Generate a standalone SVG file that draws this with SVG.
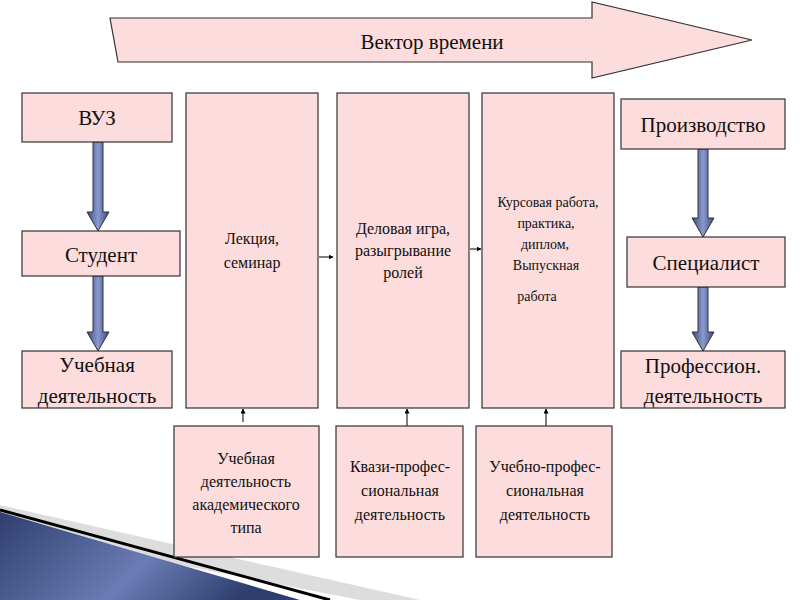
<svg xmlns="http://www.w3.org/2000/svg" width="800" height="600" viewBox="0 0 800 600">
<style>
text{font-family:"Liberation Serif","Times New Roman","DejaVu Serif",serif}
.t{fill:#111;text-anchor:middle}
.b{fill:#fcdcdc;stroke:#333;stroke-width:1.2}
.s{font-size:15px}.m{font-size:16px}.l{font-size:21px}
.c{stroke:#000;stroke-width:1;fill:none}
</style>
<defs>
<linearGradient id="bl" x1="0" y1="0" x2="1" y2="0"><stop offset="0" stop-color="#3a4a7a"/><stop offset="0.5" stop-color="#8a9ad0"/><stop offset="1" stop-color="#3a4a7a"/></linearGradient>
<linearGradient id="dec" x1="0" y1="0" x2="1" y2="0.3"><stop offset="0" stop-color="#2e3e6e"/><stop offset="0.6" stop-color="#6a7cb4"/><stop offset="1" stop-color="#2e3e6e"/></linearGradient>
<marker id="a" viewBox="0 0 10 10" refX="9" refY="5" markerWidth="5" markerHeight="5" orient="auto"><path d="M0,0L10,5L0,10z" fill="#000"/></marker>
</defs>
<polygon points="0,530 0,505 420,600 360,600" fill="#ddd"/>
<polygon points="0,512 0,600 300,600" fill="url(#dec)"/>
<line x1="0" y1="510" x2="330" y2="600" stroke="#000" stroke-width="3"/>
<g id="vector"><polygon class="b" points="110,18 592,18 592,2 752,40 592,78 592,62 118,62"/><text class="t l" x="432" y="49">Вектор времени</text></g>
<g id="connectors">
<g fill="url(#bl)" stroke="#333" stroke-width="1">
<path d="M93,142h10v70h6l-11,19l-11,-19h6z"/>
<path d="M93,276h10v56h6l-11,19l-11,-19h6z"/>
<path d="M698,149h10v69h6l-11,19l-11,-19h6z"/>
<path d="M698,287h10v45h6l-11,19l-11,-19h6z"/>
</g>
<line class="c" x1="319" y1="257" x2="333" y2="257" marker-end="url(#a)"/>
<line class="c" x1="470" y1="249" x2="481" y2="249" marker-end="url(#a)"/>
<line class="c" x1="243" y1="422" x2="243" y2="409" marker-end="url(#a)"/>
<line class="c" x1="407" y1="426" x2="407" y2="409" marker-end="url(#a)"/>
<line class="c" x1="546" y1="426" x2="546" y2="409" marker-end="url(#a)"/>
</g>
<g id="vuz"><rect class="b" x="22" y="93" width="150" height="49"/><text class="t l" x="97" y="125">ВУЗ</text></g>
<g id="student"><rect class="b" x="22" y="231" width="158" height="45"/><text class="t l" x="101" y="262">Студент</text></g>
<g id="ucheb"><rect class="b" x="22" y="351" width="150" height="57"/><text class="t l" x="97" y="372">Учебная</text><text class="t l" x="97" y="403">деятельность</text></g>
<g id="lecture"><rect class="b" x="186" y="93" width="132" height="315"/><text class="t m" x="252" y="244">Лекция,</text><text class="t m" x="252" y="268">семинар</text></g>
<g id="game"><rect class="b" x="337" y="93" width="132" height="315"/><text class="t m" x="403" y="234">Деловая игра,</text><text class="t m" x="403" y="256">разыгрывание</text><text class="t m" x="403" y="278">ролей</text></g>
<g id="course"><rect class="b" x="482" y="93" width="132" height="315"/><text class="t" font-size="14" x="548" y="207">Курсовая работа,</text><text class="t" font-size="14" x="546" y="228">практика,</text><text class="t" font-size="14" x="545" y="249">диплом,</text><text class="t" font-size="14" x="546" y="270">Выпускная</text><text class="t" font-size="14" x="537" y="301">работа</text></g>
<g id="prod"><rect class="b" x="621" y="99" width="164" height="50"/><text class="t l" x="703" y="132">Производство</text></g>
<g id="spec"><rect class="b" x="627" y="237" width="158" height="50"/><text class="t l" x="706" y="270">Специалист</text></g>
<g id="prof"><rect class="b" x="621" y="351" width="164" height="57"/><text class="t l" x="703" y="373">Профессион.</text><text class="t l" x="703" y="403">деятельность</text></g>
<g id="acad"><rect class="b" x="174" y="426" width="145" height="131"/><text class="t m" x="246" y="464">Учебная</text><text class="t m" x="246" y="487">деятельность</text><text class="t m" x="246" y="510">академического</text><text class="t m" x="246" y="533">типа</text></g>
<g id="kvazi"><rect class="b" x="336" y="426" width="127" height="131"/><text class="t m" x="400" y="472">Квази-профес-</text><text class="t m" x="400" y="496">сиональная</text><text class="t m" x="400" y="520">деятельность</text></g>
<g id="uchprof"><rect class="b" x="476" y="426" width="136" height="131"/><text class="t m" x="545" y="472">Учебно-профес-</text><text class="t m" x="545" y="496">сиональная</text><text class="t m" x="545" y="520">деятельность</text></g>
</svg>
